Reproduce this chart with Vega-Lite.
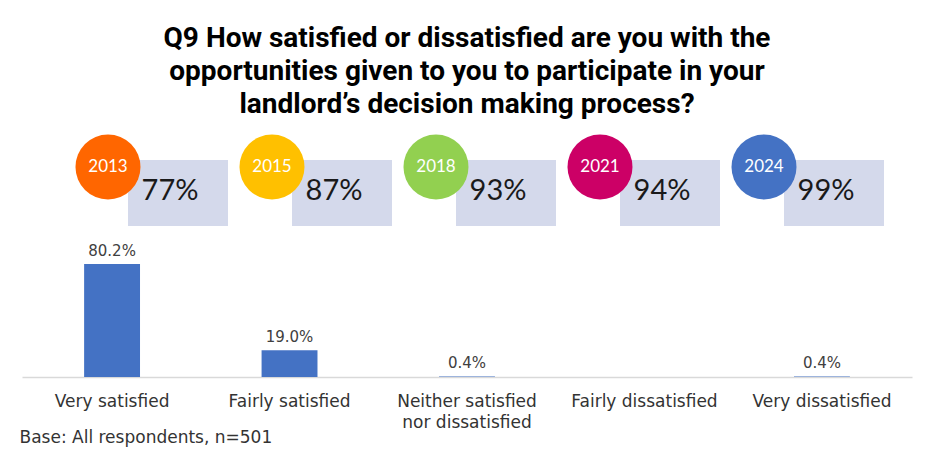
{
  "$schema": "https://vega.github.io/schema/vega-lite/v6.json",
  "width": 890,
  "height": 247,
  "autosize": "none",
  "padding": {"left": 22, "top": 130, "right": 13, "bottom": 84},
  "background": "white",
  "config": {"view": {"stroke": null}, "font": "DejaVu Sans"},
  "title": {
    "text": ["Q9 How satisfied or dissatisfied are you with the", "opportunities given to you to participate in your", "landlord’s decision making process?"],
    "font": "Roboto",
    "fontSize": 28,
    "fontWeight": "bold",
    "color": "#000000",
    "lineHeight": 33,
    "anchor": "middle",
    "offset": 11
  },
  "layer": [
    {
      "data": {"values": [
        {"category": "Very satisfied", "share": 0.802},
        {"category": "Fairly satisfied", "share": 0.19},
        {"category": "Neither satisfied nor dissatisfied", "share": 0.004},
        {"category": "Fairly dissatisfied", "share": 0},
        {"category": "Very dissatisfied", "share": 0.004}
      ]},
      "encoding": {
        "x": {
          "field": "category", "type": "nominal", "sort": null,
          "scale": {"paddingInner": 0.685, "paddingOuter": 0.35},
          "axis": {
            "title": "Base: All respondents, n=501",
            "titleAnchor": "start", "titleAlign": "left", "titleBaseline": "middle",
            "titleY": 60, "titleX": -3, "titleFontSize": 17, "titleFontWeight": "normal", "titleColor": "#333333", "titleFont": "DejaVu Sans",
            "labelAngle": 0, "labelFontSize": 17, "labelColor": "#333333", "labelPadding": 16, "labelFont": "DejaVu Sans",
            "labelLineHeight": 21, "labelBaseline": "top",
            "labelExpr": "datum.value == 'Neither satisfied nor dissatisfied' ? ['Neither satisfied', 'nor dissatisfied'] : datum.value",
            "ticks": false, "domainColor": "#d9d9d9", "domainWidth": 1.5, "grid": false
          }
        },
        "y": {"field": "share", "type": "quantitative", "scale": {"domain": [0, 1.752], "nice": false}, "axis": null}
      },
      "layer": [
        {"mark": {"type": "bar", "color": "#4472C4"}},
        {
          "transform": [{"filter": "datum.share > 0"}],
          "mark": {"type": "text", "dy": -13, "fontSize": 15, "color": "#404040", "font": "DejaVu Sans"},
          "encoding": {"text": {"field": "share", "type": "quantitative", "format": ".1%"}}
        }
      ]
    },
    {
      "data": {"values": [
        {"year": "2013", "satisfaction": "77%"},
        {"year": "2015", "satisfaction": "87%"},
        {"year": "2018", "satisfaction": "93%"},
        {"year": "2021", "satisfaction": "94%"},
        {"year": "2024", "satisfaction": "99%"}
      ]},
      "encoding": {
        "x": {"field": "year", "type": "ordinal", "scale": {"type": "point", "padding": 0.7134, "align": 0.3675}, "axis": null}
      },
      "layer": [
        {"mark": {"type": "point", "shape": "M-1.515,-1H1.515V1H-1.515Z", "size": 4356, "filled": true, "opacity": 1, "color": "#D4D9EB", "xOffset": 70, "yOffset": -60.5}},
        {
          "mark": {"type": "point", "shape": "circle", "size": 4225, "filled": true, "opacity": 1, "yOffset": -86.5},
          "encoding": {"color": {"field": "year", "type": "nominal", "scale": {"domain": ["2013", "2015", "2018", "2021", "2024"], "range": ["#FF6600", "#FFC000", "#92D050", "#CC0066", "#4472C4"]}, "legend": null}}
        },
        {
          "mark": {"type": "text", "fontSize": 17, "color": "white", "yOffset": -86.5, "baseline": "middle", "font": "Lato"},
          "encoding": {"text": {"field": "year"}}
        },
        {
          "mark": {"type": "text", "fontSize": 29, "color": "#1a1a1a", "xOffset": 62, "yOffset": -62.5, "baseline": "middle", "font": "Lato"},
          "encoding": {"text": {"field": "satisfaction"}}
        }
      ]
    }
  ],
  "resolve": {"scale": {"x": "independent", "y": "independent", "color": "independent"}}
}
